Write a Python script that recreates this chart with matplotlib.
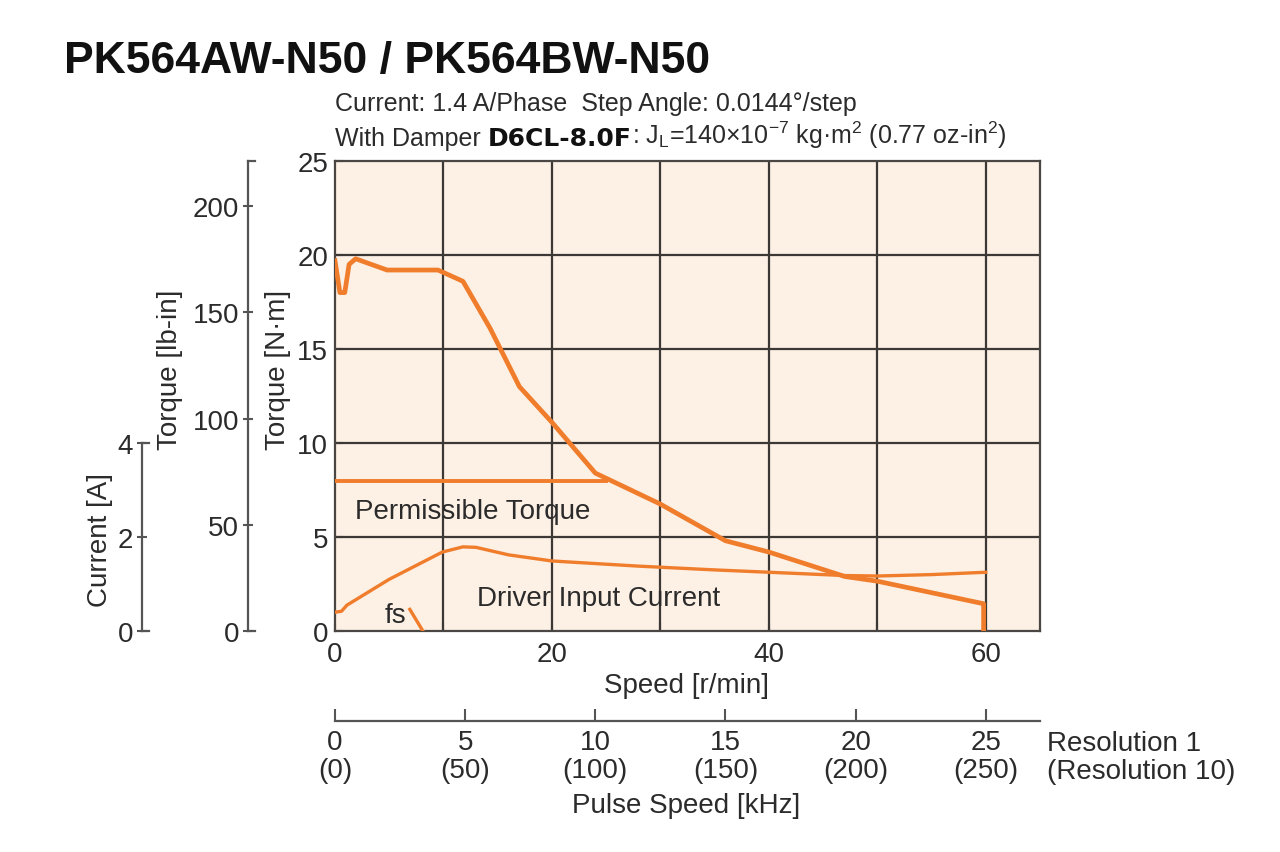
import numpy as np
import matplotlib.pyplot as plt

# fonts
plt.rcParams['font.family'] = ['Liberation Sans Narrow', 'Liberation Sans', 'DejaVu Sans']
plt.rcParams['mathtext.fontset'] = 'custom'
plt.rcParams['mathtext.rm'] = 'Liberation Sans'
plt.rcParams['mathtext.it'] = 'Liberation Sans'

# data
pullout_speed = [0, 0.45, 0.9, 1.3, 1.9, 4.8, 9.5, 11.8, 14.3, 17, 20, 24, 30, 36, 40, 47, 50, 59.8, 59.8]
pullout_torque = [19.7, 18.0, 18.0, 19.5, 19.8, 19.2, 19.2, 18.6, 16.1, 13.0, 11.1, 8.4, 6.75, 4.8, 4.2, 2.9, 2.65, 1.45, 0]

permissible_speed = [0, 25]
permissible_torque = [8.0, 8.0]

current_speed = [0, 0.6, 1.1, 5, 9.9, 11.8, 13, 16, 20, 28, 35, 40, 47, 50, 55, 60]
current_amps = [0.4, 0.42, 0.55, 1.1, 1.68, 1.79, 1.78, 1.62, 1.49, 1.38, 1.3, 1.25, 1.18, 1.17, 1.2, 1.25]

fs_speed = [6.9, 8.1]
fs_torque = [1.15, 0]

speed_ticks = [0, 20, 40, 60]
nm_ticks = [0, 5, 10, 15, 20, 25]
lbin_ticks = [0, 50, 100, 150, 200]
amp_ticks = [0, 2, 4]
khz_ticks = [0, 5, 10, 15, 20, 25]
khz_labels = ['0\n(0)', '5\n(50)', '10\n(100)', '15\n(150)', '20\n(200)', '25\n(250)']

ORANGE = '#f07d2c'
PEACH = '#fdf0e5'
GRID = '#3c3836'
TXT = '#2b2b2b'
FS = 20

W, H = 1280, 853
def fx(px):
    return px / W
def fy(py):
    return 1 - py / H

fig = plt.figure(figsize=(12.8, 8.53), dpi=100)

# main plot
ax = fig.add_axes([fx(335), fy(632), fx(1040) - fx(335), fy(162) - fy(632)])
ax.set_facecolor(PEACH)
ax.set_xlim(0, 65)
ax.set_ylim(0, 25)
ax.set_xticks(speed_ticks)
ax.set_xticks([10, 30, 50], minor=True)
ax.set_yticks(nm_ticks)
ax.tick_params(axis='both', which='both', direction='in', length=6, width=1.5,
               color=GRID, labelsize=FS, labelcolor=TXT, pad=5)
ax.tick_params(axis='x', pad=7)
for x in range(10, 61, 10):
    ax.axvline(x, color=GRID, lw=1.6, zorder=1)
for y in [5, 10, 15, 20]:
    ax.axhline(y, color=GRID, lw=1.6, zorder=1)
for s in ax.spines.values():
    s.set_color('#4a4644')
    s.set_linewidth(1.6)

ax.plot(pullout_speed, pullout_torque, color=ORANGE, lw=3.4, zorder=3, solid_joinstyle='round')
ax.plot(permissible_speed, permissible_torque, color=ORANGE, lw=2.8, zorder=3)
ax.plot(fs_speed, fs_torque, color=ORANGE, lw=2.4, zorder=3)

# current on its own scale (4 A lines up with 10 N·m)
axc = ax.twinx()
axc.set_ylim(0, 10)
axc.axis('off')
axc.plot(current_speed, current_amps, color=ORANGE, lw=2.4, zorder=3)

ax.text(1.8, 6.4, 'Permissible Torque', fontsize=FS, color=TXT, va='center', ha='left')
ax.text(13.1, 1.76, 'Driver Input Current', fontsize=FS, color=TXT, va='center', ha='left')
ax.text(4.6, 0.85, 'fs', fontsize=FS, color=TXT, va='center', ha='left')


def side_scale(left_px, bottom_px, top_px, top_val, ticks):
    a = fig.add_axes([fx(left_px), fy(bottom_px), 0.012, fy(top_px) - fy(bottom_px)])
    a.set_ylim(0, top_val)
    a.set_xlim(0, 1)
    a.set_yticks(ticks)
    a.set_xticks([])
    for k in ['top', 'right', 'bottom']:
        a.spines[k].set_visible(False)
    a.spines['left'].set_color('#555')
    a.spines['left'].set_linewidth(1.6)
    a.patch.set_alpha(0)
    a.tick_params(axis='y', direction='inout', length=7, width=1.5, color='#555',
                  labelsize=FS, labelcolor=TXT, pad=3)
    a.plot([0, 0.45], [0, 0], color='#555', lw=1.6, clip_on=False)
    a.plot([0, 0.45], [top_val, top_val], color='#555', lw=1.6, clip_on=False)
    return a

# lb-in scale and current scale
axl = side_scale(248, 632, 162, 25 * 8.851, lbin_ticks)
axa = side_scale(142, 632, 444, 4, amp_ticks)

# pulse speed scale
axp = fig.add_axes([fx(335), fy(722), fx(1040) - fx(335), 0.001])
axp.set_xlim(0, 65 * 25 / 60)
axp.set_yticks([])
axp.set_xticks(khz_ticks)
axp.set_xticklabels(khz_labels, linespacing=1.1)
for k in ['top', 'right', 'left']:
    axp.spines[k].set_visible(False)
axp.spines['bottom'].set_color('#555')
axp.spines['bottom'].set_linewidth(1.6)
axp.patch.set_alpha(0)
axp.tick_params(axis='x', direction='in', length=9, width=1.5, color='#555',
                labelsize=FS, labelcolor=TXT, pad=6)

# labels
fig.text(fx(686), fy(686), 'Speed [r/min]', fontsize=FS, color=TXT, ha='center', va='center')
fig.text(fx(686), fy(806), 'Pulse Speed [kHz]', fontsize=FS, color=TXT, ha='center', va='center')
fig.text(fx(1047), fy(758), 'Resolution 1\n(Resolution 10)', fontsize=FS, color=TXT,
         ha='left', va='center', linespacing=1.1)
fig.text(fx(278), fy(370), 'Torque [N·m]', fontsize=FS, color=TXT, rotation=90, ha='center', va='center')
fig.text(fx(170), fy(370), 'Torque [lb-in]', fontsize=FS, color=TXT, rotation=90, ha='center', va='center')
fig.text(fx(100), fy(540), 'Current [A]', fontsize=FS, color=TXT, rotation=90, ha='center', va='center')

# title and conditions
fig.text(fx(64), fy(73), 'PK564AW-N50 / PK564BW-N50', fontsize=32, fontweight='bold',
         family=['Liberation Sans', 'DejaVu Sans'], color='#111', ha='left', va='baseline')
fig.text(fx(335), fy(111), 'Current: 1.4 A/Phase  Step Angle: 0.0144°/step', fontsize=18,
         color=TXT, ha='left', va='baseline')
t1 = fig.text(fx(335), fy(146), 'With Damper ', fontsize=18, color=TXT, ha='left', va='baseline')
t2 = ax.annotate('D6CL-8.0F', xy=(1, 0), xycoords=t1, fontsize=18, fontweight='bold',
                 color='#111', family=['DejaVu Sans'], ha='left', va='bottom', annotation_clip=False)
ax.annotate(r': J$_{\mathrm{L}}$=140×10$^{-7}$ kg·m$^{2}$ (0.77 oz-in$^{2}$)', xy=(1, 0), xycoords=t2,
            fontsize=18, color=TXT, ha='left', va='bottom', annotation_clip=False)

fig.savefig('out.png', dpi=100, facecolor='white')
